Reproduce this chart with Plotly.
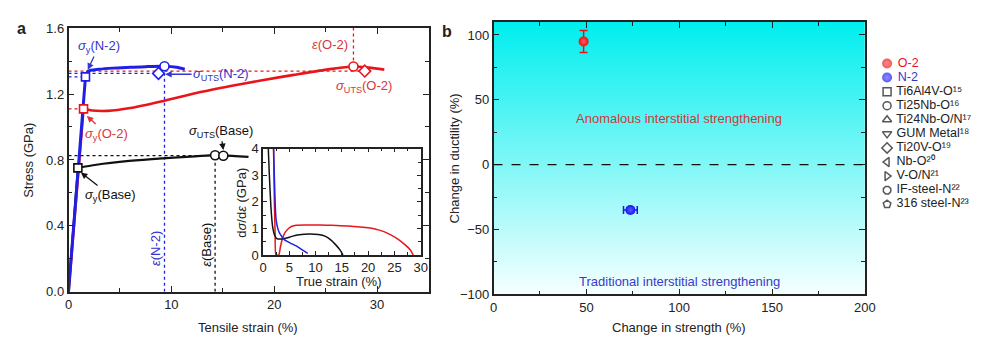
import plotly.graph_objects as go

# ---------------- Panel a: engineering stress-strain curves ----------------
base_strain = [0, 0.91, 2.7, 5.9, 9.1, 12.3, 14.25, 15.05, 17.5]
base_stress = [0, 0.752, 0.771, 0.794, 0.810, 0.822, 0.829, 0.828, 0.819]
n2_strain = [0, 1.65, 1.9, 3.0, 4.3, 6.0, 7.5, 9.33, 10.5, 11.3]
n2_stress = [0, 1.304, 1.338, 1.350, 1.357, 1.362, 1.366, 1.368, 1.362, 1.350]
o2_strain = [0, 1.46, 2.3, 3.8, 6.0, 9.0, 12.3, 15.5, 18.7, 21.9, 25.1, 27.7, 29.2, 30.7]
o2_stress = [0, 1.11, 1.10, 1.098, 1.115, 1.155, 1.205, 1.245, 1.282, 1.316, 1.348, 1.367, 1.36, 1.348]

# key points per series (Base, N-2, O-2)
series = ["Base", "N-2", "O-2"]
yield_strain = [0.91, 1.65, 1.46]
yield_stress = [0.752, 1.304, 1.11]
elong_strain = [14.25, 9.33, 27.7]
elong_stress = [0.829, 1.368, 1.367]
uts_strain = [15.05, 8.75, 28.8]
uts_stress = [0.826, 1.325, 1.339]

# ---------------- Inset: work-hardening rate vs true strain ----------------
in_base_t = [1.0, 1.2, 1.5, 1.8, 2.2, 2.6, 3.5, 4.5, 5.5, 6.9, 8.8, 10.5, 11.9, 13.0, 13.8, 14.6, 15.2]
in_base_v = [4.0, 3.0, 1.8, 1.1, 0.75, 0.62, 0.60, 0.64, 0.70, 0.76, 0.79, 0.77, 0.70, 0.55, 0.39, 0.20, 0.0]
in_n2_t = [2.0, 2.2, 2.44, 2.8, 3.2, 4.1, 5.2, 6.3, 7.4, 8.5]
in_n2_v = [4.0, 2.6, 1.41, 1.0, 0.80, 0.57, 0.45, 0.34, 0.20, 0.06]
in_o2_t = [2.0, 2.15, 2.3, 2.45, 3.0, 3.3, 3.7, 4.2, 4.75, 5.5, 6.3, 8, 10, 12, 14, 16.3, 18.5, 21.3, 23.0, 24.4, 25.8, 27.0, 28.0, 28.6]
in_o2_v = [4.0, 2.0, 0.8, 0.0, 0.0, 0.3, 0.62, 0.85, 0.98, 1.08, 1.12, 1.13, 1.13, 1.12, 1.11, 1.09, 1.05, 0.98, 0.88, 0.75, 0.58, 0.39, 0.20, 0.0]

# ---------------- Panel b ----------------
b_names = ["O-2", "N-2"]
strength_change = [48.5, 73.7]
ductility_change = [95, -35]
strength_err = [0, 3.7]
ductility_err = [8.5, 2]

legend_names = ["O-2", "N-2", "Ti6Al4V-O¹⁵", "Ti25Nb-O¹⁶", "Ti24Nb-O/N¹⁷", "GUM Metal¹⁸",
                "Ti20V-O¹⁹", "Nb-O²⁰", "V-O/N²¹", "IF-steel-N²²", "316 steel-N²³"]
legend_symbols = ["circle", "circle", "square", "circle", "triangle-up", "triangle-down",
                  "diamond", "triangle-left", "triangle-right", "octagon", "pentagon"]

X1_RANGE = [0, 35]
Y1_RANGE = [0, 1.6]
X2_RANGE = [0, 200]
Y2_RANGE = [-100, 110]

FONT = "Liberation Sans, Arial, Helvetica, sans-serif"
BLUE = "#1f1fe8"
RED = "#e8161c"
BLACK = "#111111"
LBLUE = "#3535d0"
LRED = "#d9363a"
colors = [BLACK, BLUE, RED]
uts_symbols = ["circle", "diamond", "diamond"]


def X(px):
    return px / 1000.0


def Y(py):
    return 1 - py / 353.0


fig = go.Figure()

# dotted guide lines (panel a)
dot = dict(width=1.3, dash="dot")
for i in range(3):
    c = colors[i]
    fig.add_trace(go.Scatter(x=[0, uts_strain[i]], y=[uts_stress[i], uts_stress[i]], mode="lines",
                             line=dict(color=c, **dot), showlegend=False, hoverinfo="skip",
                             xaxis="x", yaxis="y"))
    if series[i] == "O-2":
        yv = [elong_stress[i], Y1_RANGE[1]]
    else:
        yv = [0, elong_stress[i]]
    fig.add_trace(go.Scatter(x=[elong_strain[i], elong_strain[i]], y=yv, mode="lines",
                             line=dict(color=c, **dot), showlegend=False, hoverinfo="skip",
                             xaxis="x", yaxis="y"))
    if series[i] != "Base":
        fig.add_trace(go.Scatter(x=[0, yield_strain[i]], y=[yield_stress[i], yield_stress[i]], mode="lines",
                                 line=dict(color=c, **dot), showlegend=False, hoverinfo="skip",
                                 xaxis="x", yaxis="y"))

# curves: elastic part straight, plastic part smoothed
for sx, sy, c, w in [(base_strain, base_stress, BLACK, 2.2), (o2_strain, o2_stress, RED, 2.6),
                     (n2_strain, n2_stress, BLUE, 3.0)]:
    fig.add_trace(go.Scatter(x=sx[:2], y=sy[:2], mode="lines", line=dict(color=c, width=w),
                             showlegend=False, hoverinfo="skip", xaxis="x", yaxis="y"))
    fig.add_trace(go.Scatter(x=sx[1:], y=sy[1:], mode="lines", line=dict(color=c, width=w, shape="spline", smoothing=0.8),
                             showlegend=False, hoverinfo="skip", xaxis="x", yaxis="y"))

# markers
for i in range(3):
    c = colors[i]
    fig.add_trace(go.Scatter(x=[yield_strain[i]], y=[yield_stress[i]], mode="markers",
                             marker=dict(symbol="square", size=8, color="white", line=dict(color=c, width=1.6)),
                             showlegend=False, xaxis="x", yaxis="y"))
    fig.add_trace(go.Scatter(x=[elong_strain[i]], y=[elong_stress[i]], mode="markers",
                             marker=dict(symbol="circle", size=9, color="white", line=dict(color=c, width=1.6)),
                             showlegend=False, xaxis="x", yaxis="y"))
    fig.add_trace(go.Scatter(x=[uts_strain[i]], y=[uts_stress[i]], mode="markers",
                             marker=dict(symbol=uts_symbols[i], size=9, color="white", line=dict(color=c, width=1.6)),
                             showlegend=False, xaxis="x", yaxis="y"))

# inset curves
for tx, ty, c in [(in_o2_t, in_o2_v, RED), (in_base_t, in_base_v, BLACK), (in_n2_t, in_n2_v, BLUE)]:
    fig.add_trace(go.Scatter(x=tx, y=ty, mode="lines", line=dict(color=c, width=1.5, shape="spline", smoothing=0.5),
                             showlegend=False, hoverinfo="skip", xaxis="x3", yaxis="y3", cliponaxis=True))

# panel b background gradient
fig.add_trace(go.Scatter(x=[X2_RANGE[0], X2_RANGE[1], X2_RANGE[1], X2_RANGE[0], X2_RANGE[0]],
                         y=[Y2_RANGE[0], Y2_RANGE[0], Y2_RANGE[1], Y2_RANGE[1], Y2_RANGE[0]],
                         mode="none", fill="toself",
                         fillgradient=dict(type="vertical", colorscale=[[0, "#f6ffff"], [1, "#00eeee"]]),
                         showlegend=False, hoverinfo="skip", xaxis="x2", yaxis="y2"))

# panel b points
b_colors = ["#ee1010", "#1515ee"]
b_light = ["#ff5a5a", "#5a5aff"]
for i in range(2):
    fig.add_trace(go.Scatter(x=[strength_change[i]], y=[ductility_change[i]], mode="markers",
                             name=b_names[i],
                             error_y=dict(type="data", array=[ductility_err[i]], color=b_colors[i], thickness=1.5, width=4),
                             error_x=dict(type="data", array=[strength_err[i]], color=b_colors[i], thickness=1.5, width=4,
                                          visible=strength_err[i] > 0),
                             marker=dict(symbol="circle", size=10, color=b_colors[i],
                                         gradient=dict(type="radial", color=b_light[i])),
                             showlegend=False, xaxis="x2", yaxis="y2"))

# custom legend (hidden axis)
n_leg = len(legend_names)
leg_idx = list(range(n_leg))
leg_marker_color = b_colors + ["white"] * (n_leg - 2)
leg_line_color = b_colors + [BLACK] * (n_leg - 2)
leg_line_width = [0, 0] + [1.5] * (n_leg - 2)
leg_grad = ["radial", "radial"] + ["none"] * (n_leg - 2)
leg_text_color = [RED, LBLUE] + ["#222"] * (n_leg - 2)
fig.add_trace(go.Scatter(x=[0.16] * n_leg, y=leg_idx, mode="markers+text",
                         text=[" " + n for n in legend_names], textposition="middle right",
                         textfont=dict(family=FONT, size=12.5, color=leg_text_color),
                         marker=dict(symbol=legend_symbols, size=[10, 10] + [8] * (n_leg - 2), color=leg_marker_color,
                                     gradient=dict(type=leg_grad, color=b_light + ["white"] * (n_leg - 2)),
                                     line=dict(color=leg_line_color, width=leg_line_width)),
                         showlegend=False, hoverinfo="skip", cliponaxis=False, xaxis="x4", yaxis="y4"))

axis_common = dict(showline=True, linecolor="#222", linewidth=1.5, mirror="ticks", ticks="inside",
                   tickcolor="#222", tickwidth=1.3, showgrid=False, zeroline=False,
                   tickfont=dict(family=FONT, size=13, color="#222"))

fig.update_layout(
    width=1000, height=353, margin=dict(l=0, r=0, t=0, b=0),
    paper_bgcolor="white", plot_bgcolor="white", showlegend=False,
    font=dict(family=FONT, size=13, color="#222"),
    xaxis=dict(domain=[X(65.5), X(431)], range=X1_RANGE, anchor="y", dtick=10, ticklen=6,
               minor=dict(dtick=5, ticks="inside", ticklen=4, tickcolor="#222"), **axis_common),
    yaxis=dict(domain=[Y(297.5), Y(22)], range=Y1_RANGE, anchor="x", dtick=0.4, tickformat=".1f", ticklen=6,
               minor=dict(dtick=0.2, ticks="inside", ticklen=4, tickcolor="#222"), **axis_common),
    xaxis2=dict(domain=[X(497), X(874)], range=X2_RANGE, anchor="y2", dtick=50, ticklen=6,
                minor=dict(dtick=25, ticks="inside", ticklen=4, tickcolor="#222"), **axis_common),
    yaxis2=dict(domain=[Y(300), Y(15.7)], range=Y2_RANGE, anchor="x2", tickvals=[-100, -50, 0, 50, 100], ticklen=6,
                minor=dict(tickvals=[-75, -25, 25, 75], ticks="inside", ticklen=4, tickcolor="#222"), **axis_common),
    xaxis3=dict(domain=[X(263), X(423)], range=[0, 30], anchor="y3", dtick=5, ticklen=4,
                minor=dict(dtick=2.5, ticks="inside", ticklen=3, tickcolor="#222"), **axis_common),
    yaxis3=dict(domain=[Y(259), Y(148)], range=[0, 4], anchor="x3", dtick=1, ticklen=4,
                minor=dict(dtick=0.5, ticks="inside", ticklen=3, tickcolor="#222"), **axis_common),
    xaxis4=dict(domain=[X(877), X(999)], range=[0, 1], anchor="y4", visible=False),
    yaxis4=dict(domain=[Y(213.35), Y(51.65)], range=[n_leg - 0.5, -0.5], anchor="x4", visible=False),
)

# dashed zero line in panel b
fig.add_shape(type="line", xref="x2 domain", x0=0, x1=1, yref="y2", y0=0, y1=0,
              line=dict(color="#111", width=1.4, dash="dash"))

ann = []


def pa(text, x, y, size=13, angle=0, bold=False):
    ann.append(dict(text=("<b>%s</b>" % text) if bold else text, x=x, y=y, xref="paper", yref="paper",
                    showarrow=False, xanchor="center", yanchor="middle", textangle=angle,
                    font=dict(family=FONT, size=size, color="#222")))


pa("Stress (GPa)", X(25), Y(160), angle=-90)
pa("Tensile strain (%)", X(248), Y(335))
pa("Change in ductility (%)", X(457), Y(158), angle=-90)
pa("Change in strength (%)", X(685), Y(335))
pa("d<i>σ</i>/d<i>ε</i> (GPa)", X(241), Y(204), angle=-90)
pa("True strain (%)", X(340), Y(287))
pa("a", X(18), Y(22), size=16, bold=True)
pa("b", X(450), Y(26), size=16, bold=True)


def da(text, x, y, color, ax=None, ay=None, angle=0):
    d = dict(text=text, x=x, y=y, xref="x", yref="y", font=dict(family=FONT, size=13, color=color),
             textangle=angle, xanchor="center", yanchor="middle")
    if ax is None:
        d["showarrow"] = False
    else:
        d.update(showarrow=True, ax=ax, ay=ay, axref="x", ayref="y", arrowhead=2, arrowsize=1,
                 arrowwidth=1.3, arrowcolor=color, standoff=0)
    ann.append(d)


da("<i>σ</i><sub>y</sub>(N-2)", 1.87, 1.347, LBLUE, 2.93, 1.488)
da("<i>σ</i><sub>y</sub>(O-2)", 1.78, 1.067, LRED, 3.7, 0.957)
da("<i>σ</i><sub>y</sub>(Base)", 1.2, 0.724, BLACK, 4.08, 0.585)
da("<i>σ</i><sub>UTS</sub>(N-2)", 9.4, 1.32, LBLUE, 14.83, 1.32)
da("<i>σ</i><sub>UTS</sub>(O-2)", 28.75, 1.246, LRED)
da("<i>ε</i>(O-2)", 25.4, 1.502, LRED)
da("<i>σ</i><sub>UTS</sub>(Base)", 15.05, 0.86, BLACK, 14.78, 0.974)
da("<i>ε</i>(N-2)", 8.4, 0.265, LBLUE, angle=-90)
da("<i>ε</i>(Base)", 13.4, 0.288, BLACK, angle=-90)

ann.append(dict(text="Anomalous interstitial strengthening", x=100, y=35.7, xref="x2", yref="y2",
                showarrow=False, font=dict(family=FONT, size=13, color="#cc3a3a")))
ann.append(dict(text="Traditional interstitial strengthening", x=100, y=-90.5, xref="x2", yref="y2",
                showarrow=False, font=dict(family=FONT, size=13, color="#3a3acc")))

fig.update_layout(annotations=ann)
fig.write_html("out.html")
